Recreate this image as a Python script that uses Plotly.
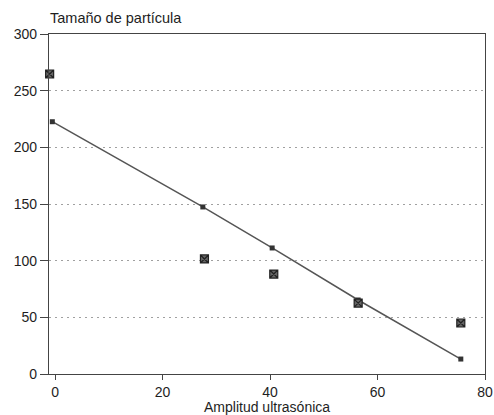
import plotly.graph_objects as go

# Data
line_x = [-0.5, 27.5, 40.4, 56.4, 75.5]
line_y = [222.6, 147.4, 111.2, 65.3, 13.2]
star_x = [-1.0, 27.8, 40.7, 56.4, 75.5]
star_y = [264.7, 101.5, 88.2, 62.6, 45.0]

x_ticks = [0, 20, 40, 60, 80]
y_ticks = [0, 50, 100, 150, 200, 250, 300]

title_y = "Tamaño de partícula"
title_x = "Amplitud ultrasónica"

FONT = "Liberation Sans, Arial, sans-serif"
INK = "#1e1e1e"

fig = go.Figure()
fig.add_trace(go.Scatter(
    x=line_x, y=line_y, mode="lines+markers",
    line=dict(color="#555555", width=1.5),
    marker=dict(symbol="square", size=5, color="#333333"),
    cliponaxis=False, showlegend=False,
))
fig.add_trace(go.Scatter(
    x=star_x, y=star_y, mode="markers",
    marker=dict(symbol="square-x", size=8, color="#666666",
                line=dict(color="#222222", width=1.2)),
    cliponaxis=False, showlegend=False,
))

fig.update_layout(
    width=494, height=415,
    margin=dict(l=49, r=9, t=34, b=41),
    paper_bgcolor="white", plot_bgcolor="white",
    font=dict(family=FONT, size=14, color=INK),
    xaxis=dict(
        range=[-1.12, 80], tickvals=x_ticks, ticktext=[str(v) for v in x_ticks],
        showline=True, linecolor="#444444", linewidth=1.2, mirror=True,
        ticks="outside", ticklen=5, tickcolor="#444444",
        showgrid=False, zeroline=False, automargin=False,
        tickfont=dict(size=14, color=INK),
    ),
    yaxis=dict(
        range=[0, 300], tickvals=y_ticks, ticktext=[str(v) for v in y_ticks],
        showline=True, linecolor="#444444", linewidth=1.2, mirror=True,
        ticks="outside", ticklen=8, tickcolor="#444444",
        showgrid=True, gridcolor="#a0a0a0", gridwidth=1, griddash="2px,4px",
        zeroline=False, automargin=False,
        tickfont=dict(size=14, color=INK),
    ),
    annotations=[
        dict(text=title_y, xref="paper", yref="paper", x=0, y=1,
             xshift=-1, yshift=6, xanchor="left", yanchor="bottom",
             showarrow=False, font=dict(size=14.5, color=INK)),
        dict(text=title_x, xref="paper", yref="paper", x=0.5, y=0,
             xshift=0, yshift=-23, xanchor="center", yanchor="top",
             showarrow=False, font=dict(size=14, color=INK)),
    ],
)

fig.write_html("out.html", config={"displayModeBar": False},
               post_script="document.body.style.margin='0';")
